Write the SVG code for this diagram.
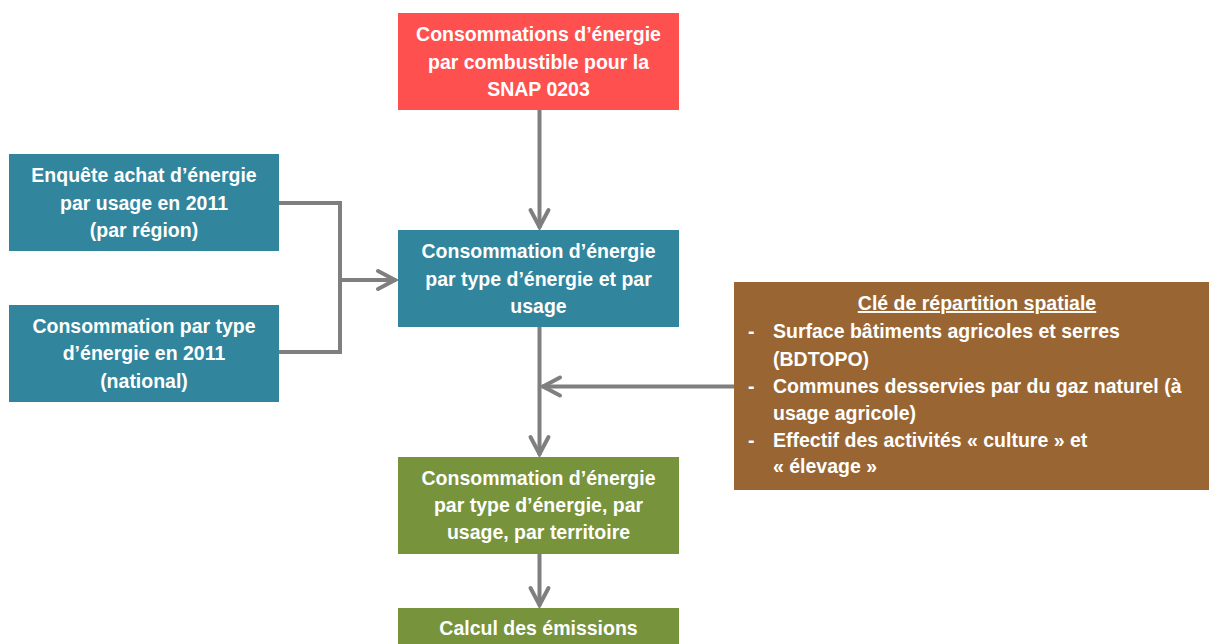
<svg xmlns="http://www.w3.org/2000/svg" width="1209" height="644" viewBox="0 0 1209 644">
<defs>
<marker id="arr" markerUnits="userSpaceOnUse" markerWidth="30" markerHeight="30" viewBox="-22 -15 30 30" refX="0" refY="0" orient="auto">
<path d="M-18,-9 L-1,0 L-18,9" fill="none" stroke="#7f7f7f" stroke-width="4" stroke-linecap="round" stroke-linejoin="miter"/>
</marker>
<style>
text{font-family:"Liberation Sans",Arial,sans-serif;font-weight:bold;font-size:19.5px;fill:#ffffff}
.c{text-anchor:middle}
.con{fill:none;stroke:#7f7f7f;stroke-width:4}
.red{fill:#ff5050}
.teal{fill:#31859c}
.green{fill:#77933c}
.brown{fill:#996633}
</style>
</defs>
<rect width="1209" height="644" fill="#ffffff"/>
<g id="connectors">
<line class="con" x1="539.5" y1="110" x2="539.5" y2="228" marker-end="url(#arr)"/>
<polyline class="con" points="279,203 340,203 340,352 279,352"/>
<line class="con" x1="340" y1="280" x2="396" y2="280" marker-end="url(#arr)"/>
<line class="con" x1="539.5" y1="327" x2="539.5" y2="455" marker-end="url(#arr)"/>
<line class="con" x1="734" y1="386.5" x2="542" y2="386.5" marker-end="url(#arr)"/>
<line class="con" x1="539.5" y1="554" x2="539.5" y2="606" marker-end="url(#arr)"/>
</g>
<g id="n-snap">
<rect class="red" x="398" y="13" width="281" height="97"/>
<text class="c" x="538.5" y="41">Consommations d’énergie</text>
<text class="c" x="538.5" y="69">par combustible pour la</text>
<text class="c" x="538.5" y="96">SNAP 0203</text>
</g>
<g id="n-enquete">
<rect class="teal" x="9" y="154" width="270" height="97"/>
<text class="c" x="144" y="182">Enquête achat d’énergie</text>
<text class="c" x="144" y="210">par usage en 2011</text>
<text class="c" x="144" y="237">(par région)</text>
</g>
<g id="n-national">
<rect class="teal" x="9" y="305" width="270" height="97"/>
<text class="c" x="144" y="333">Consommation par type</text>
<text class="c" x="144" y="360">d’énergie en 2011</text>
<text class="c" x="144" y="388">(national)</text>
</g>
<g id="n-usage">
<rect class="teal" x="398" y="230" width="281" height="97"/>
<text class="c" x="538.5" y="258">Consommation d’énergie</text>
<text class="c" x="538.5" y="286">par type d’énergie et par</text>
<text class="c" x="538.5" y="313">usage</text>
</g>
<g id="n-cle">
<rect class="brown" x="734" y="282" width="475" height="208"/>
<text class="c" x="977" y="310" text-decoration="underline">Clé de répartition spatiale</text>
<text x="748" y="338">-</text>
<text x="773" y="338">Surface bâtiments agricoles et serres</text>
<text x="773" y="366">(BDTOPO)</text>
<text x="748" y="393">-</text>
<text x="773" y="393">Communes desservies par du gaz naturel (à</text>
<text x="773" y="420">usage agricole)</text>
<text x="748" y="447">-</text>
<text x="773" y="447">Effectif des activités « culture » et</text>
<text x="773" y="473">« élevage »</text>
</g>
<g id="n-territoire">
<rect class="green" x="398" y="457" width="281" height="97"/>
<text class="c" x="538.5" y="485">Consommation d’énergie</text>
<text class="c" x="538.5" y="512">par type d’énergie, par</text>
<text class="c" x="538.5" y="539">usage, par territoire</text>
</g>
<g id="n-emissions">
<rect class="green" x="398" y="608" width="281" height="40"/>
<text class="c" x="538.5" y="635">Calcul des émissions</text>
</g>
</svg>
